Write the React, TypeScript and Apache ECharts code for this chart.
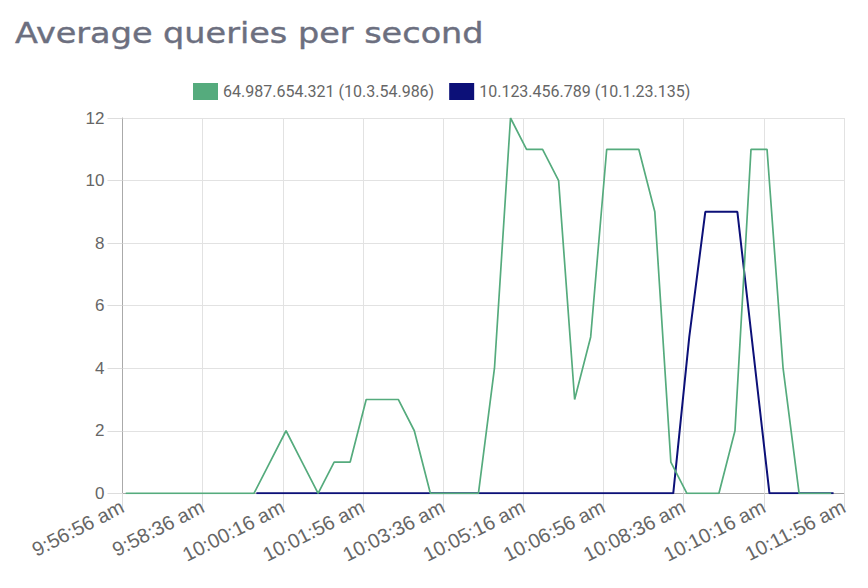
import React, { useEffect, useRef } from "react";
import * as echarts from "echarts";

const TITLE = "Average queries per second";
const SERIES_NAMES = ["64.987.654.321 (10.3.54.986)", "10.123.456.789 (10.1.23.135)"];
const SERIES_COLORS = ["#55ab7d", "#0c1078"];

// x axis: seconds after 9:56:56 am, ticks every 100 s
const AXIS_START_SECONDS = 9 * 3600 + 56 * 60 + 56;
const AXIS_SPAN = 900;
const AXIS_STEP = 100;

// samples every 20 s
const SAMPLE_STEP = 20;
const GREEN_FIRST_OFFSET = 4; // 9:57:00 am
const BLUE_FIRST_OFFSET = 167; // 9:59:43 am

const greenValues = [
  0, 0, 0, 0, 0, 0, 0, 0, 0, 1, 2, 1, 0, 1, 1, 3, 3, 3, 2, 0, 0, 0, 0, 4, 12,
  11, 11, 10, 3, 5, 11, 11, 11, 9, 1, 0, 0, 0, 2, 11, 11, 4, 0, 0, 0,
];
const blueValues = [
  0, 0, 0, 0, 0, 0, 0, 0, 0, 0, 0, 0, 0, 0, 0, 0, 0, 0, 0, 0, 0, 0, 0, 0, 0,
  0, 0, 5, 9, 9, 9, 4.5, 0, 0, 0, 0, 0,
];

const Y_MIN = 0;
const Y_MAX = 12;
const Y_STEP = 2;

function toPairs(first: number, values: number[]) {
  return values.map((v, i) => [first + i * SAMPLE_STEP, v]);
}

function timeLabel(offset: number) {
  const s = AXIS_START_SECONDS + offset;
  const h = Math.floor(s / 3600);
  const m = Math.floor((s % 3600) / 60);
  const sec = s % 60;
  const ampm = h >= 12 ? "pm" : "am";
  const h12 = h % 12 === 0 ? 12 : h % 12;
  return `${h12}:${String(m).padStart(2, "0")}:${String(sec).padStart(2, "0")} ${ampm}`;
}

export default function App() {
  const ref = useRef<HTMLDivElement>(null);
  useEffect(() => {
    if (!ref.current) return;
    const chart = echarts.init(ref.current, undefined, { renderer: "svg" });
    const axisFont = "'Liberation Sans', Arial, Helvetica, sans-serif";
    chart.setOption({
      animation: false,
      backgroundColor: "#ffffff",
      graphic: [
        {
          type: "text",
          x: 15,
          y: 33,
          scaleX: 1.155,
          style: {
            text: TITLE,
            fontSize: 29,
            fontFamily: "'DejaVu Sans', sans-serif",
            fill: "#6c6f7f",
            verticalAlign: "middle",
            stroke: "#6c6f7f",
            lineWidth: 0.4,
          },
        },
      ],
      legend: {
        data: SERIES_NAMES,
        left: 193,
        top: 83,
        padding: 0,
        itemWidth: 25,
        itemHeight: 17,
        itemGap: 15,
        icon: "rect",
        textStyle: {
          fontFamily: "Roboto, sans-serif",
          fontSize: 16,
          color: "#666",
        },
      },
      grid: { left: 122.5, right: 24, top: 118, bottom: 94.7, containLabel: false },
      xAxis: {
        type: "value",
        min: 0,
        max: AXIS_SPAN,
        interval: AXIS_STEP,
        axisLine: { show: true, lineStyle: { color: "#aaaaaa", width: 1 } },
        axisTick: { show: true, length: 15, lineStyle: { color: "#dddddd" } },
        splitLine: { show: true, lineStyle: { color: "#e2e2e2" } },
        axisLabel: {
          rotate: 27,
          fontSize: 20,
          color: "#666",
          fontFamily: axisFont,
          margin: 12,
          formatter: (v: number) => timeLabel(v),
        },
      },
      yAxis: {
        type: "value",
        min: Y_MIN,
        max: Y_MAX,
        interval: Y_STEP,
        axisLine: { show: true, lineStyle: { color: "#aaaaaa", width: 1 } },
        axisTick: { show: true, length: 15, lineStyle: { color: "#dddddd" } },
        splitLine: { show: true, lineStyle: { color: "#e2e2e2" } },
        axisLabel: { fontSize: 17, color: "#666", fontFamily: axisFont, margin: 18 },
      },
      series: [
        {
          name: SERIES_NAMES[1],
          type: "line",
          data: toPairs(BLUE_FIRST_OFFSET, blueValues),
          showSymbol: false,
          color: SERIES_COLORS[1],
          lineStyle: { width: 2, color: SERIES_COLORS[1] },
        },
        {
          name: SERIES_NAMES[0],
          type: "line",
          data: toPairs(GREEN_FIRST_OFFSET, greenValues),
          showSymbol: false,
          color: SERIES_COLORS[0],
          lineStyle: { width: 1.7, color: SERIES_COLORS[0] },
        },
      ],
    });
    return () => chart.dispose();
  }, []);
  return (
    <div
      ref={ref}
      style={{ position: "fixed", left: 0, top: 0, width: 868, height: 588 }}
    />
  );
}
